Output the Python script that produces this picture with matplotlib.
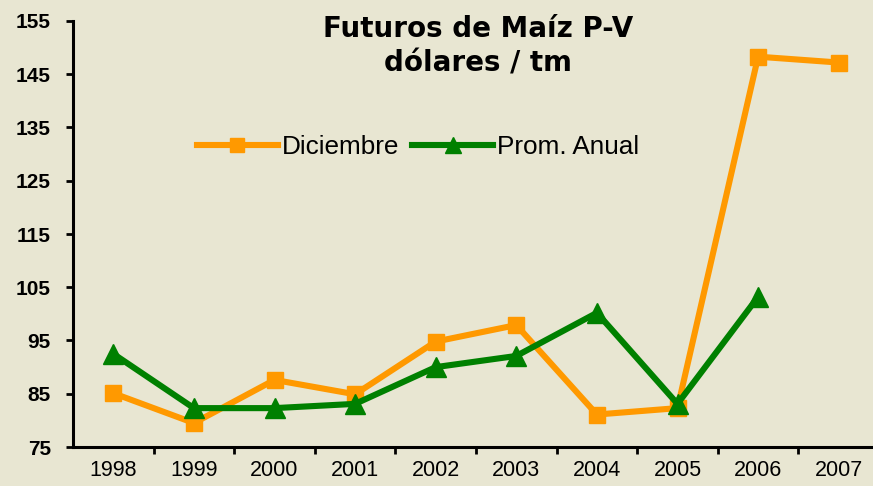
import matplotlib
matplotlib.use("Agg")
import matplotlib.pyplot as plt

years = ["1998", "1999", "2000", "2001", "2002", "2003", "2004", "2005", "2006", "2007"]
diciembre = [85.1, 79.5, 87.6, 84.9, 94.8, 97.9, 81.1, 82.3, 148.3, 147.2]
prom_anual = [92.5, 82.3, 82.3, 83.1, 90.0, 92.1, 100.2, 83.1, 103.2, None]
yticks = [75, 85, 95, 105, 115, 125, 135, 145, 155]

plt.rcParams['font.family'] = ['Liberation Sans', 'DejaVu Sans']
bg = '#E8E6D2'
W, H = 873, 486
fig = plt.figure(figsize=(W / 100, H / 100), dpi=100, facecolor=bg)
ax = fig.add_axes([73 / W, (H - 447) / H, (879 - 73) / W, (447 - 21) / H], facecolor=bg)

x = list(range(len(years)))
ax.plot(x, diciembre, color='#FF9900', lw=4.4, marker='s', ms=12, mec='#FF9900',
        label='Diciembre', solid_joinstyle='round', zorder=3)
px = [i for i, v in zip(x, prom_anual) if v is not None]
pv = [v for v in prom_anual if v is not None]
ax.plot(px, pv, color='#008000', lw=4.4, marker='^', ms=14.5, mec='#008000',
        label='Prom. Anual', solid_joinstyle='round', zorder=4)

ax.set_xlim(-0.5, len(years) - 0.5)
ax.set_ylim(75, 155)
ax.set_yticks(yticks)
ax.set_yticklabels([str(v) for v in yticks], fontsize=15, fontweight='bold')
ax.set_xticks([i + 0.5 for i in range(len(years))])
ax.set_xticklabels([])
ax.set_xticks(x, minor=True)
ax.set_xticklabels(years, minor=True, fontsize=15.5)
ax.tick_params(axis='x', which='minor', length=0, pad=9)
ax.tick_params(axis='x', which='major', length=5, width=2, direction='out')
ax.tick_params(axis='y', length=5, width=2, direction='out', pad=11)
for s in ['top', 'right']:
    ax.spines[s].set_visible(False)
for s in ['left', 'bottom']:
    ax.spines[s].set_linewidth(2.2)

fig.text(478 / W, 1 - 46 / H, 'Futuros de Maíz P-V\ndólares / tm', ha='center', va='center',
         fontsize=20, fontweight='bold', family=['DejaVu Sans'], linespacing=1.3)

leg = ax.legend(loc='center', bbox_to_anchor=((418 - 73) / (879 - 73), (447 - 147) / (447 - 21)),
                ncol=2, frameon=False, fontsize=18.8, handlelength=3.1, handletextpad=0.16,
                columnspacing=0.5, markerscale=0.8, borderpad=0, borderaxespad=0)

fig.savefig('out.png', dpi=100, facecolor=bg)
